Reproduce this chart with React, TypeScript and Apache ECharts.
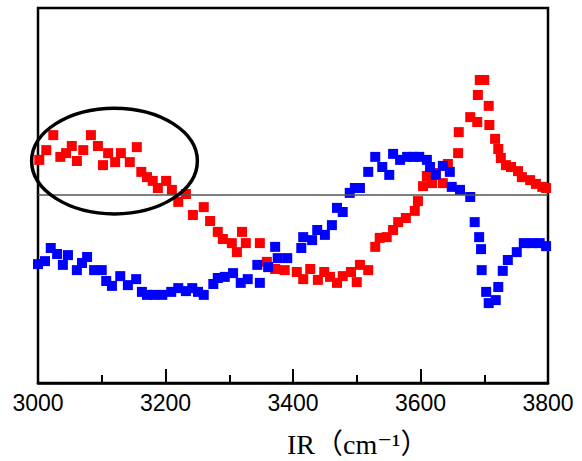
import React, { useEffect, useRef } from "react";
import * as echarts from "echarts";

const xTicks = [3000, 3200, 3400, 3600, 3800];

const redX = [
  3002, 3013, 3024, 3035, 3044, 3053, 3061, 3071, 3083, 3094,
  3102, 3110, 3121, 3130, 3144, 3155, 3162, 3171, 3180, 3188,
  3201, 3210, 3220, 3232, 3243, 3260, 3270, 3282, 3290, 3304,
  3312, 3320, 3326, 3348, 3359, 3372, 3387, 3406, 3416, 3427,
  3439, 3449, 3458, 3469, 3478, 3491, 3500, 3505, 3518, 3529,
  3536, 3547, 3557, 3565, 3577, 3591, 3596, 3604, 3610, 3618,
  3624, 3635, 3643, 3659, 3660, 3678, 3689, 3690, 3693, 3700,
  3707, 3708, 3717, 3722, 3726, 3734, 3742, 3753, 3759, 3772,
  3781, 3791, 3797,
];
const redY = [
  59.5, 62.1, 66.1, 60.3, 61.3, 63.2, 59.2, 62.1, 66.1, 63.2,
  58.1, 61.3, 58.9, 61.3, 58.9, 62.9, 56.3, 54.9, 53.9, 52.0,
  53.9, 51.5, 48.3, 50.4, 44.8, 46.9, 43.2, 40.3, 38.4, 37.3,
  34.9, 40.3, 37.3, 37.3, 32.3, 30.4, 30.1, 29.6, 27.7, 30.4,
  27.5, 29.6, 28.3, 26.7, 28.5, 29.6, 26.9, 31.5, 30.1, 36.3,
  38.7, 38.9, 40.8, 42.9, 44.0, 45.9, 48.5, 52.5, 55.2, 53.3,
  56.0, 53.3, 58.4, 61.3, 66.9, 70.9, 69.6, 76.8, 80.8, 80.8,
  73.9, 68.8, 65.1, 62.4, 60.0, 58.1, 57.6, 56.5, 54.9, 54.1,
  53.1, 52.3, 52.0,
];

const blueX = [
  3000, 3011, 3020, 3030, 3039, 3047, 3061, 3069, 3077, 3088,
  3100, 3107, 3116, 3129, 3141, 3154, 3163, 3171, 3182, 3195,
  3209, 3220, 3232, 3242, 3251, 3260, 3275, 3282, 3293, 3306,
  3318, 3329, 3344, 3348, 3361, 3372, 3376, 3391, 3413, 3416,
  3430, 3438, 3450, 3461, 3469, 3478, 3489, 3497, 3505, 3518,
  3529, 3540, 3551, 3557, 3568, 3579, 3588, 3598, 3610, 3615,
  3624, 3635, 3646, 3649, 3662, 3678, 3685, 3692, 3695, 3696,
  3703, 3707, 3718, 3722, 3729, 3737, 3751, 3762, 3775, 3787,
  3797,
];
const blueY = [
  31.7, 32.5, 36.0, 34.4, 31.5, 34.1, 30.1, 32.0, 33.6, 30.1,
  30.1, 27.2, 25.9, 28.5, 26.1, 27.7, 24.3, 23.5, 23.5, 23.5,
  24.3, 25.3, 24.5, 25.3, 24.3, 23.5, 26.4, 28.0, 28.3, 29.3,
  26.7, 27.7, 31.5, 26.7, 30.9, 36.3, 33.3, 33.3, 36.0, 38.9,
  38.1, 40.8, 39.5, 42.1, 46.7, 45.6, 50.7, 52.0, 52.0, 56.3,
  60.3, 57.6, 55.5, 61.1, 59.5, 60.3, 60.3, 60.3, 59.5, 57.6,
  55.5, 57.9, 56.3, 52.3, 51.5, 49.6, 42.9, 38.9, 35.7, 30.1,
  24.3, 21.3, 22.1, 25.6, 29.9, 32.8, 34.9, 37.3, 37.3, 37.3,
  36.5,
];

const baseline = 50.1;
// annotation ellipse in data units
const ellipseCenter = [3120, 59.2];
const ellipseRadius = [130, 14.1];

function zip(xs: number[], ys: number[]) {
  const n = Math.min(xs.length, ys.length);
  const out: number[][] = [];
  for (let i = 0; i < n; i++) out.push([xs[i], ys[i]]);
  return out;
}

export default function App() {
  const ref = useRef<HTMLDivElement>(null);
  useEffect(() => {
    if (!ref.current) return;
    const chart = echarts.init(ref.current, null, { renderer: "svg" });
    chart.setOption({
      animation: false,
      backgroundColor: "#fff",
      title: {
        text: "IR（cm⁻¹）",
        left: 282,
        top: 425,
        textStyle: {
          fontFamily: "'Liberation Serif', 'DejaVu Serif', 'Noto Sans CJK SC', serif",
          fontSize: 28,
          fontWeight: "normal",
          color: "#000",
        },
      },
      grid: {
        left: 38,
        right: 34,
        top: 8,
        bottom: 78,
        show: true,
        borderColor: "#000",
        borderWidth: 2.5,
        backgroundColor: "transparent",
      },
      xAxis: {
        type: "value",
        min: 3000,
        max: 3800,
        interval: 200,
        axisLine: { show: true, lineStyle: { color: "#000", width: 2.5 } },
        axisTick: { show: true, inside: true, length: 14, lineStyle: { color: "#000", width: 2 } },
        minorTick: { show: true, splitNumber: 2, length: 8, lineStyle: { color: "#000", width: 2 } },
        splitLine: { show: false },
        axisLabel: {
          color: "#000",
          fontSize: 23,
          fontFamily: "'Liberation Sans', Arial, sans-serif",
          margin: 8,
          formatter: (v: number) => (xTicks.includes(v) ? String(v) : ""),
        },
      },
      yAxis: {
        type: "value",
        min: 0,
        max: 100,
        axisLine: { show: false },
        axisTick: { show: false },
        axisLabel: { show: false },
        splitLine: { show: false },
      },
      series: [
        {
          type: "scatter",
          name: "red",
          symbol: "rect",
          symbolSize: 10,
          itemStyle: { color: "#ff0000", opacity: 1 },
          data: zip(redX, redY),
          markLine: {
            silent: true,
            symbol: "none",
            label: { show: false },
            lineStyle: { color: "#555", width: 1.5, type: "solid" },
            data: [{ yAxis: baseline }],
          },
          z: 2,
        },
        {
          type: "scatter",
          name: "blue",
          symbol: "rect",
          symbolSize: 10,
          itemStyle: { color: "#0000ff", opacity: 1 },
          data: zip(blueX, blueY),
          z: 3,
        },
      ],
    });
    const c = chart.convertToPixel({ gridIndex: 0 }, ellipseCenter) as number[];
    const p = chart.convertToPixel({ gridIndex: 0 }, [
      ellipseCenter[0] + ellipseRadius[0],
      ellipseCenter[1] + ellipseRadius[1],
    ]) as number[];
    chart.setOption({
      graphic: [
        {
          type: "ellipse",
          z: 100,
          silent: true,
          shape: {
            cx: c[0],
            cy: c[1],
            rx: Math.abs(p[0] - c[0]),
            ry: Math.abs(p[1] - c[1]),
          },
          style: { fill: "none", stroke: "#000", lineWidth: 3.5 },
        },
      ],
    });
    return () => chart.dispose();
  }, []);
  return (
    <div
      ref={ref}
      style={{ position: "fixed", left: 0, top: 0, width: 582, height: 461 }}
    />
  );
}
